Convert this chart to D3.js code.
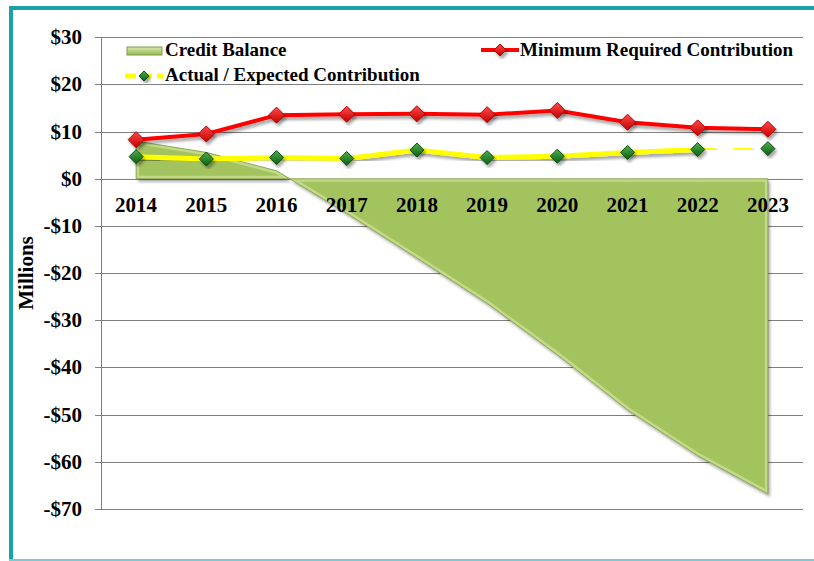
<!DOCTYPE html>
<html>
<head>
<meta charset="utf-8">
<script src="https://cdn.jsdelivr.net/npm/d3@7"></script>
<style>
  body { margin: 0; background: #fff; }
  svg { display: block; font-family: "Liberation Serif", "Times New Roman", serif; font-weight: bold; }
</style>
</head>
<body>
<svg id="chart" width="814" height="561"></svg>
<script>
// values, in millions
const years = ["2014", "2015", "2016", "2017", "2018", "2019", "2020", "2021", "2022", "2023"];
const creditBalance = [8, 5.6, 1.7, -7.3, -16.8, -26.4, -37.3, -49, -58.7, -66.8];
const minRequired = [8.3, 9.5, 13.5, 13.7, 13.8, 13.6, 14.5, 12.0, 10.8, 10.5];
const actualExpected = [4.7, 4.2, 4.5, 4.3, 6.1, 4.5, 4.8, 5.6, 6.2, 6.4];
const firstExpected = 8; // from 2022 on the contribution is only expected (dashed)
const yTicks = [30, 20, 10, 0, -10, -20, -30, -40, -50, -60, -70];

const svg = d3.select("#chart");
const defs = svg.append("defs");

// frame
svg.append("rect").attr("x", 9).attr("y", 6).attr("width", 805).attr("height", 4).attr("fill", "#1e9fac");
svg.append("rect").attr("x", 9).attr("y", 6).attr("width", 4).attr("height", 555).attr("fill", "#1e9fac");
svg.append("rect").attr("x", 9).attr("y", 559).attr("width", 805).attr("height", 2).attr("fill", "#7fcad1");

const x = d3.scalePoint().domain(years).range([101, 803]).padding(0.5);
const y = d3.scaleLinear().domain([-70, 30]).range([509, 37.3]);

// shadows
const sh = defs.append("filter").attr("id", "shadow").attr("x", "-10%").attr("y", "-10%").attr("width", "130%").attr("height", "130%");
sh.append("feDropShadow").attr("dx", 2).attr("dy", 3).attr("stdDeviation", 1.5)
  .attr("flood-color", "#000").attr("flood-opacity", 0.35);

const gGreen = defs.append("linearGradient").attr("id", "gdot").attr("x1", 0).attr("y1", 0).attr("x2", 0).attr("y2", 1);
gGreen.append("stop").attr("offset", "0%").attr("stop-color", "#4fb04f");
gGreen.append("stop").attr("offset", "100%").attr("stop-color", "#0c5e12");
const gRed = defs.append("linearGradient").attr("id", "rdot").attr("x1", 0).attr("y1", 0).attr("x2", 0).attr("y2", 1);
gRed.append("stop").attr("offset", "0%").attr("stop-color", "#ff4a4a");
gRed.append("stop").attr("offset", "100%").attr("stop-color", "#c40000");

// grid + y axis
svg.append("g").selectAll("line").data(yTicks).join("line")
  .attr("x1", 95).attr("x2", 803)
  .attr("y1", d => Math.round(y(d)) + 0.5).attr("y2", d => Math.round(y(d)) + 0.5)
  .attr("stroke", "#7f7f7f").attr("stroke-width", 1);
svg.append("line").attr("x1", 101.5).attr("x2", 101.5).attr("y1", y(30)).attr("y2", y(-70))
  .attr("stroke", "#7f7f7f");

svg.append("g").selectAll("text").data(yTicks).join("text")
  .attr("x", 82).attr("y", d => y(d) + 7)
  .attr("text-anchor", "end").attr("font-size", 21)
  .text(d => (d < 0 ? "-$" : "$") + Math.abs(d));

svg.append("text").attr("transform", "translate(33,273) rotate(-90)")
  .attr("text-anchor", "middle").attr("font-size", 21).text("Millions");

// credit balance area
const idx = d3.range(years.length);
const area = d3.area().x(i => x(years[i])).y0(y(0)).y1(i => y(creditBalance[i]));
const areaPath = area(idx);
defs.append("clipPath").attr("id", "areaClip").append("path").attr("d", areaPath);
svg.append("path").attr("d", areaPath).attr("fill", "#a3c35f").attr("filter", "url(#shadow)");
svg.append("path").attr("d", areaPath).attr("fill", "none").attr("stroke", "#cfe29a")
  .attr("stroke-width", 6).attr("clip-path", "url(#areaClip)").attr("opacity", 0.7);
svg.append("path").attr("d", areaPath).attr("fill", "none").attr("stroke", "#7d9a45").attr("stroke-width", 0.8);

// x labels
svg.append("g").selectAll("text").data(years).join("text")
  .attr("x", d => x(d)).attr("y", 212)
  .attr("text-anchor", "middle").attr("font-size", 21).text(d => d);

// actual / expected contribution
const line = d3.line().x(i => x(years[i])).y(i => y(actualExpected[i]));
svg.append("path").attr("d", line(idx.slice(0, firstExpected + 1)))
  .attr("fill", "none").attr("stroke", "#ffff00").attr("stroke-width", 5).attr("filter", "url(#shadow)");
svg.append("path").attr("d", line(idx.slice(firstExpected)))
  .attr("fill", "none").attr("stroke", "#ffff00").attr("stroke-width", 5)
  .attr("stroke-dasharray", "18,18").attr("filter", "url(#shadow)");

// minimum required contribution
const redLine = d3.line().x(i => x(years[i])).y(i => y(minRequired[i]));
svg.append("path").attr("d", redLine(idx))
  .attr("fill", "none").attr("stroke", "#ff0000").attr("stroke-width", 4).attr("filter", "url(#shadow)");

function diamond(sel, cx, cy, half, fill, stroke) {
  sel.append("path")
    .attr("d", `M${cx},${cy - half}L${cx + half},${cy}L${cx},${cy + half}L${cx - half},${cy}Z`)
    .attr("fill", fill).attr("stroke", stroke).attr("stroke-width", 1).attr("filter", "url(#shadow)");
}

const marks = svg.append("g");
idx.forEach(i => diamond(marks, x(years[i]), y(minRequired[i]), 8, "url(#rdot)", "#b00000"));
idx.forEach(i => diamond(marks, x(years[i]), y(actualExpected[i]), 7, "url(#gdot)", "#0a4a0e"));

// legend
const leg = svg.append("g").attr("font-size", 19);
const lg = defs.append("linearGradient").attr("id", "lgrect").attr("x1", 0).attr("y1", 0).attr("x2", 0).attr("y2", 1);
lg.append("stop").attr("offset", "0%").attr("stop-color", "#dbe9b0");
lg.append("stop").attr("offset", "100%").attr("stop-color", "#98b955");
leg.append("rect").attr("x", 127).attr("y", 47).attr("width", 35).attr("height", 8)
  .attr("fill", "url(#lgrect)").attr("stroke", "#7d9a45").attr("stroke-width", 1);
leg.append("text").attr("x", 165).attr("y", 56).text("Credit Balance");

leg.append("line").attr("x1", 125).attr("x2", 163).attr("y1", 76).attr("y2", 76)
  .attr("stroke", "#ffff00").attr("stroke-width", 5).attr("stroke-dasharray", "11,5");
diamond(leg, 144, 76, 5, "url(#gdot)", "#0a4a0e");
leg.append("text").attr("x", 165).attr("y", 81).text("Actual / Expected Contribution");

leg.append("line").attr("x1", 481).attr("x2", 519).attr("y1", 50).attr("y2", 50)
  .attr("stroke", "#ff0000").attr("stroke-width", 4);
diamond(leg, 500, 50, 6, "url(#rdot)", "#b00000");
leg.append("text").attr("x", 520).attr("y", 56).text("Minimum Required Contribution");
</script>
</body>
</html>
